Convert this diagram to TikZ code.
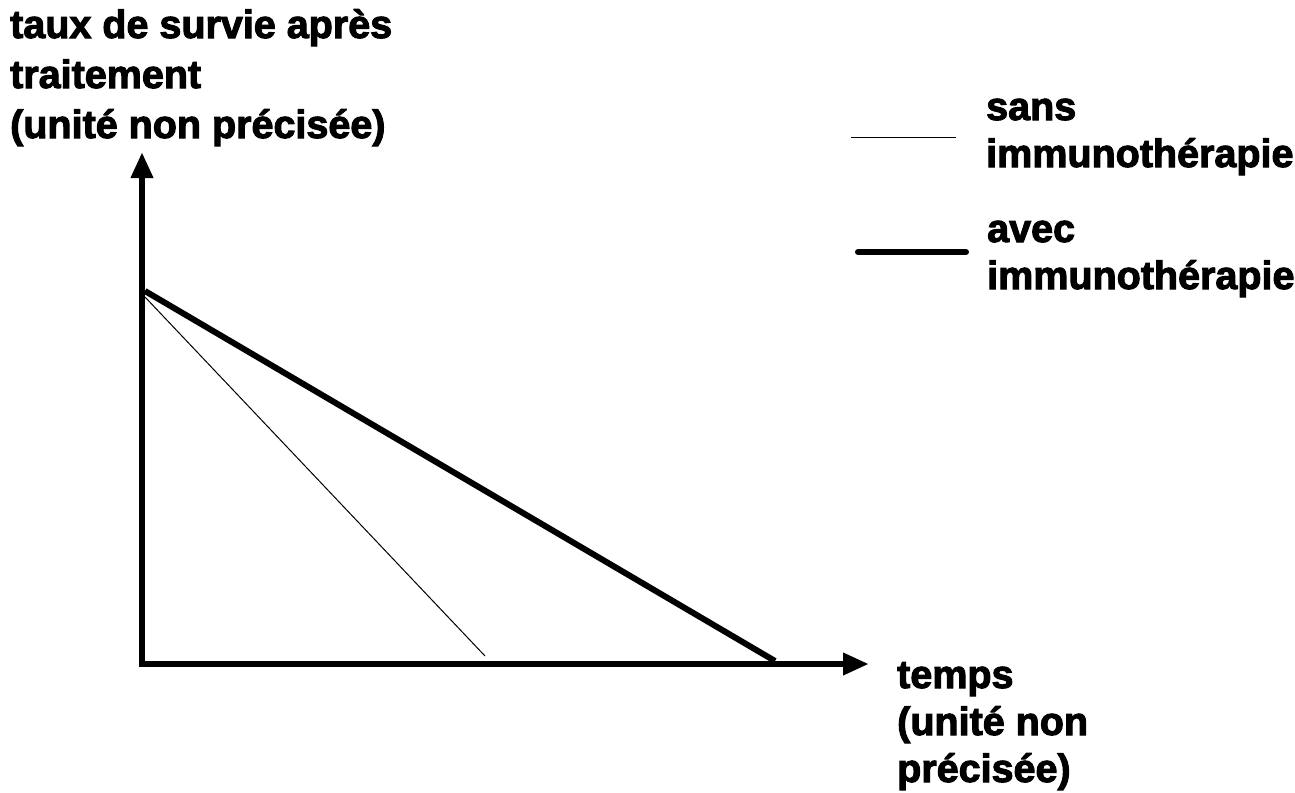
\documentclass[tikz,border=0pt]{standalone}
\usepackage{fontspec}
\setmainfont{Liberation Sans}[BoldFeatures={FakeBold=2.6}]
\usetikzlibrary{arrows.meta,positioning}

\tikzset{
  lbl/.style={font=\bfseries\fontsize{39.5}{47}\selectfont, align=left, anchor=base west, inner sep=0pt},
  axe/.style={line width=6.5pt, -{Triangle[width=21pt,length=26pt]}},
  sans/.style={line width=1pt},
  avec/.style={line width=6pt},
}

\begin{document}
\begin{tikzpicture}[x=1pt,y=-1pt]
  \useasboundingbox (0,0) rectangle (1295,792);
  %% axes
  \coordinate (O) at (142,664);
  \coordinate (ytop) at (142,152);
  \coordinate (xend) at (869,664);
  \draw[axe] (O) -- (ytop);
  \draw[axe] ([xshift=-3.25pt]O) -- (xend);
  % courbes
  \coordinate (s0) at (145,297);
  \coordinate (s1) at (485,656);
  \coordinate (a0) at (145,291);
  \coordinate (a1) at (775,661);
  \draw[sans] (s0) -- (s1);
  \draw[avec] (a0) -- (a1);
  % titres des axes (ancre = ligne de base de la derniere ligne)
  \node[lbl, font=\bfseries\fontsize{39.5}{50}\selectfont] (ylab) at (10,138) {taux de survie après\\traitement\\(unité non précisée)};
  \node[lbl] (xlab) at (897,782) {temps\\(unité non\\précisée)};
  % legende
  \coordinate (l1a) at (851,137);
  \coordinate (l1b) at (956,137);
  \coordinate (l2a) at (858,252);
  \coordinate (l2b) at (966,252);
  \draw[sans] (l1a) -- (l1b);
  \draw[avec, line cap=round] (l2a) -- (l2b);
  \node[lbl] (leg1) at (986,167) {sans\\immunothérapie};
  \node[lbl] (leg2) at (987,289) {avec\\immunothérapie};
\end{tikzpicture}
\end{document}
